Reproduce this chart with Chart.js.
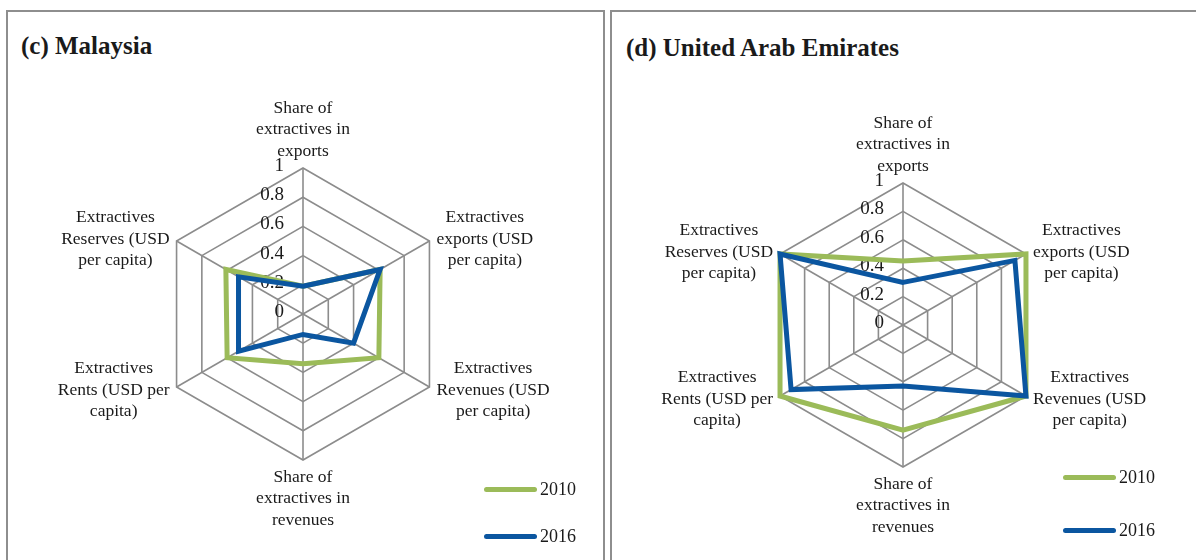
<!DOCTYPE html>
<html lang="en">
<head>
<meta charset="UTF-8">
<script src="https://cdn.jsdelivr.net/npm/chart.js"></script>
<title>Extractives radar</title>
<style>
  body { margin: 0; background: #fff; width: 1196px; height: 560px; overflow: hidden; position: relative; font-family: "Liberation Serif", serif; color: #1a1a1a; }
  .panel { position: absolute; top: 10px; height: 600px; border: 2px solid #8e8e8e; box-sizing: border-box; }
  .title { position: absolute; font-weight: bold; font-size: 25px; white-space: nowrap; }
  canvas { position: absolute; }
  .leg { position: absolute; display: flex; align-items: center; font-size: 18px; height: 20px; }
  .leg span.ln { display: inline-block; width: 53px; height: 5px; border-radius: 3px; margin-right: 3px; }
</style>
</head>
<body>
<div class="panel" style="left:6px; width:599px;"></div>
<div class="panel" style="left:610px; width:640px;"></div>
<div class="title" style="left:21px; top:32px;">(c) Malaysia</div>
<div class="title" style="left:626px; top:34px;">(d) United Arab Emirates</div>
<canvas id="chart-my" width="597" height="549" style="left:7px; top:11px;"></canvas>
<canvas id="chart-ae" width="585" height="549" style="left:611px; top:11px;"></canvas>
<div id="legend-my"></div>
<div id="legend-ae"></div>

<script>
// axis categories (one entry per spoke, split into lines as in the original)
const categories = [
  ['Share of', 'extractives in', 'exports'],
  ['Extractives', 'exports (USD', 'per capita)'],
  ['Extractives', 'Revenues (USD', 'per capita)'],
  ['Share of', 'extractives in', 'revenues'],
  ['Extractives', 'Rents (USD per', 'capita)'],
  ['Extractives', 'Reserves (USD', 'per capita)']
];
const seriesNames = ['2010', '2016'];

const malaysia2010 = [0.19, 0.61, 0.60, 0.34, 0.60, 0.61];
const malaysia2016 = [0.19, 0.61, 0.40, 0.14, 0.51, 0.51];
const uae2010 = [0.45, 1.00, 1.00, 0.74, 1.00, 1.00];
const uae2016 = [0.30, 0.91, 1.00, 0.43, 0.91, 1.00];

const tickValues = [0, 0.2, 0.4, 0.6, 0.8, 1];
const tickLabels = ['0', '0.2', '0.4', '0.6', '0.8', '1'];

const GREEN = '#9bbb59';
const BLUE = '#0b56a0';
const GRID = '#8c8c8c';
const TEXT = '#1a1a1a';
const FONT = '"Liberation Serif", serif';

// Excel-style axis numbers and spoke labels
const excelLabels = {
  id: 'excelLabels',
  beforeDatasetsDraw(chart) {
    const s = chart.scales.r, ctx = chart.ctx;
    ctx.save();
    ctx.fillStyle = TEXT;
    ctx.font = '19px ' + FONT;
    ctx.textAlign = 'right';
    ctx.textBaseline = 'middle';
    tickValues.forEach((v, i) => {
      const d = s.getDistanceFromCenterForValue(v);
      ctx.fillText(tickLabels[i], s.xCenter - 19, s.yCenter - d - 2);
    });
    ctx.restore();
  },
  afterDraw(chart) {
    const s = chart.scales.r, ctx = chart.ctx;
    const lh = 21.5;
    ctx.save();
    ctx.fillStyle = TEXT;
    ctx.font = '17.5px ' + FONT;
    ctx.textAlign = 'center';
    ctx.textBaseline = 'middle';
    categories.forEach((lines, i) => {
      const p = s.getPointPosition(i, s.drawingArea);
      const w = Math.max(...lines.map(l => ctx.measureText(l).width));
      const n = lines.length;
      let cx, cy;
      if (Math.abs(p.x - s.xCenter) < 1) {
        cx = p.x;
        cy = p.y < s.yCenter ? p.y - 17 - (n - 1) * lh : p.y + 17;
      } else {
        cx = p.x > s.xCenter ? p.x + 7 + w / 2 : p.x - 7 - w / 2;
        cy = p.y + (p.y < s.yCenter ? -2 : 3) - (n - 1) * lh / 2;
      }
      lines.forEach((l, k) => ctx.fillText(l, cx, cy + k * lh));
    });
    ctx.restore();
  }
};

function makeRadar(id, data2010, data2016, padding) {
  return new Chart(document.getElementById(id), {
    type: 'radar',
    data: {
      labels: categories.map(c => c.join(' ')),
      datasets: [
        { label: seriesNames[0], data: data2010, borderColor: GREEN, order: 1 },
        { label: seriesNames[1], data: data2016, borderColor: BLUE, order: 0 }
      ]
    },
    options: {
      responsive: false,
      animation: false,
      layout: { padding: padding },
      elements: {
        line: { borderWidth: 5, fill: false, tension: 0, borderJoinStyle: 'miter' },
        point: { radius: 0, hoverRadius: 0 }
      },
      plugins: { legend: { display: false }, tooltip: { enabled: false } },
      scales: {
        r: {
          min: 0,
          max: 1,
          afterBuildTicks: sc => { sc.ticks = tickValues.map(v => ({ value: v })); },
          ticks: { display: false },
          pointLabels: { display: false },
          grid: { circular: false, color: GRID, lineWidth: 1.6 },
          angleLines: { display: true, color: GRID, lineWidth: 1.6 }
        }
      }
    },
    plugins: [excelLabels]
  });
}

makeRadar('chart-my', malaysia2010, malaysia2016, { left: 150, right: 155, top: 157, bottom: 100 });
makeRadar('chart-ae', uae2010, uae2016, { left: 150, right: 151, top: 172, bottom: 93 });

function buildLegend(id, x, yFirst, yGap) {
  const el = document.getElementById(id);
  [GREEN, BLUE].forEach((c, i) => {
    const row = document.createElement('div');
    row.className = 'leg';
    row.style.left = x + 'px';
    row.style.top = (yFirst + i * yGap - 10) + 'px';
    row.innerHTML = '<span class="ln" style="background:' + c + '"></span>' + seriesNames[i];
    el.appendChild(row);
  });
}
buildLegend('legend-my', 484, 489, 47);
buildLegend('legend-ae', 1063, 477, 53);
</script>
</body>
</html>
